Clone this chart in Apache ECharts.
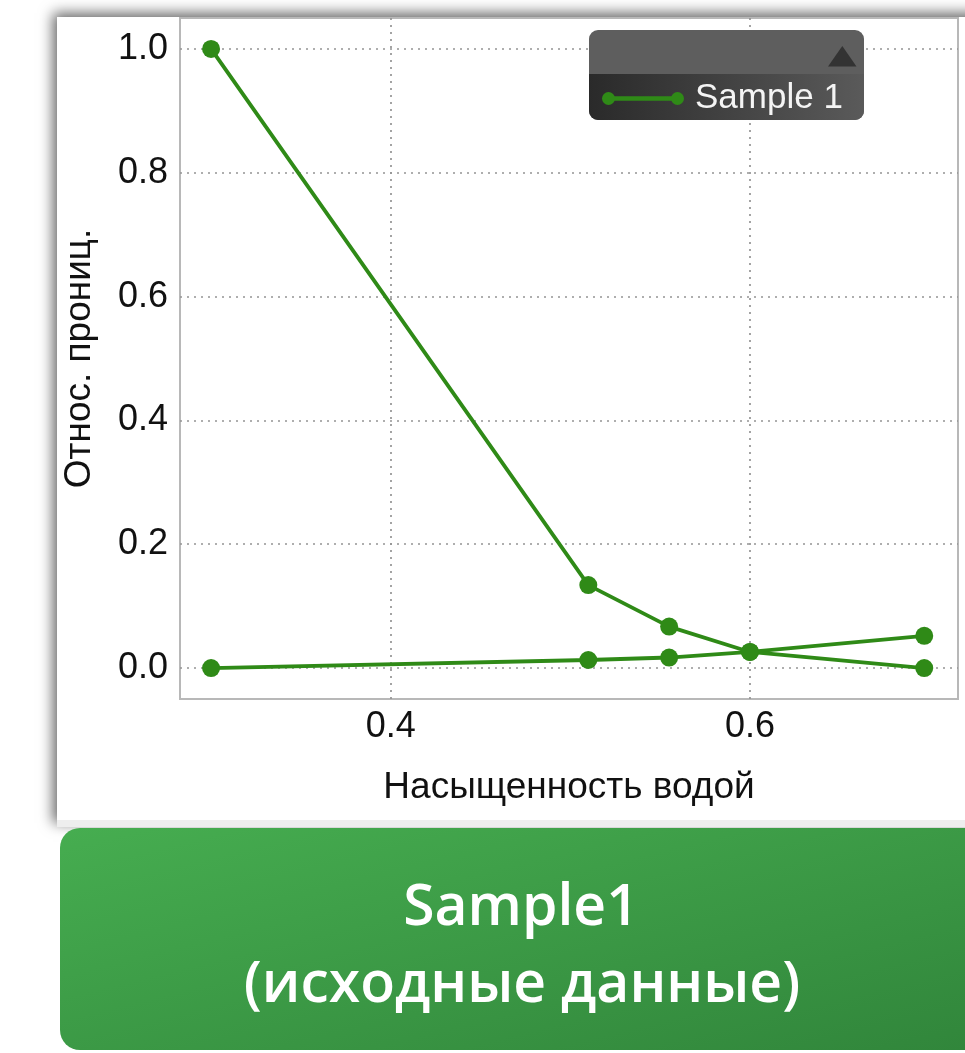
<!DOCTYPE html>
<html>
<head>
<meta charset="utf-8">
<script src="https://cdn.jsdelivr.net/npm/echarts@6/dist/echarts.min.js"></script>
<style>
  html, body { margin: 0; padding: 0; background: #ffffff; }
  #chart { width: 965px; height: 1053px; }
</style>
</head>
<body>
<div id="chart"></div>
<script>
// Relative permeability curves for Sample 1
const seriesName = 'Sample 1';
const waterSaturation = [0.3, 0.51, 0.555, 0.6, 0.697];
const krWater = [0, 0.013, 0.017, 0.026, 0.052];
const krOil = [1.0, 0.134, 0.067, 0.026, 0];
const xTicks = [0.4, 0.6];
const yTicks = [0, 0.2, 0.4, 0.6, 0.8, 1.0];
const xTitle = 'Насыщенность водой';
const yTitle = 'Относ. прониц.';
const bannerLines = ['Sample1', '(исходные данные)'];

const toPairs = (xs, ys) => xs.map((x, i) => [x, ys[i]]);

const lineColor = '#2f8a17';
const axisFont = '"Liberation Sans", Arial, sans-serif';

// legend icon: a short line with a dot at each end
const legendIcon = 'path://M0,6.5 A6.5,6.5 0 1 1 13,6.5 A6.5,6.5 0 1 1 0,6.5 Z ' +
  'M69,6.5 A6.5,6.5 0 1 1 82,6.5 A6.5,6.5 0 1 1 69,6.5 Z ' +
  'M6.5,4.3 L75.5,4.3 L75.5,8.7 L6.5,8.7 Z';

const chart = echarts.init(document.getElementById('chart'), null, { renderer: 'canvas' });

const lineSeries = (data) => ({
  type: 'line',
  name: seriesName,
  data: data,
  symbol: 'circle',
  symbolSize: 18,
  color: lineColor,
  lineStyle: { color: lineColor, width: 3.8 },
  itemStyle: { color: lineColor },
  animation: false,
  z: 2
});

chart.setOption({
  animation: false,
  backgroundColor: '#ffffff',
  grid: {
    show: true,
    left: 180, right: 7, top: 18, bottom: 354,
    borderColor: '#b8b8b8', borderWidth: 2,
    backgroundColor: 'transparent'
  },
  xAxis: {
    type: 'value',
    min: 0.2827, max: 0.7158,
    axisLine: { show: false },
    axisTick: { show: false, customValues: xTicks },
    axisLabel: {
      customValues: xTicks,
      formatter: v => v.toFixed(1),
      fontSize: 36, fontFamily: axisFont, color: '#111', margin: 10
    },
    splitLine: { show: true, lineStyle: { color: '#949494', width: 1.7, type: [2, 5] } },
    name: xTitle,
    nameLocation: 'middle',
    nameGap: 70,
    nameTextStyle: { fontSize: 37, fontFamily: axisFont, color: '#111' }
  },
  yAxis: {
    type: 'value',
    min: -0.05, max: 1.05,
    axisLine: { show: false },
    axisTick: { show: false, customValues: yTicks },
    axisLabel: {
      customValues: yTicks,
      formatter: v => v.toFixed(1),
      fontSize: 36, fontFamily: axisFont, color: '#111', margin: 12
    },
    splitLine: { show: true, lineStyle: { color: '#949494', width: 1.7, type: [2, 5] } },
    name: yTitle,
    nameLocation: 'middle',
    nameGap: 82,
    nameTextStyle: { fontSize: 37, fontFamily: axisFont, color: '#111' }
  },
  legend: {
    show: true,
    left: 602, top: 81,
    padding: 0,
    itemWidth: 82, itemHeight: 13,
    icon: legendIcon,
    itemStyle: { color: lineColor },
    textStyle: { fontSize: 35, fontFamily: axisFont, color: '#f4f4f4', padding: [0, 0, 0, 6] },
    data: [seriesName],
    selectedMode: false,
    z: 5
  },
  graphic: [
    // white card behind the chart
    {
      type: 'rect', z: -10,
      shape: { x: 57, y: 17, width: 930, height: 810 },
      style: {
        fill: '#ffffff',
        shadowBlur: 13, shadowColor: 'rgba(0,0,0,0.6)',
        shadowOffsetX: -4, shadowOffsetY: -4
      }
    },
    {
      type: 'rect', z: -9,
      shape: { x: 57, y: 820, width: 930, height: 7 },
      style: { fill: '#eeeeee' }
    },
    // legend panel
    {
      type: 'rect', z: 3,
      shape: { x: 589, y: 30, width: 275, height: 90, r: 9 },
      style: { fill: '#5e5e5e' }
    },
    {
      type: 'rect', z: 3,
      shape: { x: 589, y: 74, width: 275, height: 46, r: [0, 0, 9, 9] },
      style: {
        fill: new echarts.graphic.LinearGradient(0, 0, 1, 0, [
          { offset: 0, color: '#2a2a2a' },
          { offset: 1, color: '#5a5a5a' }
        ])
      }
    },
    {
      type: 'polygon', z: 3,
      shape: { points: [[828, 66.5], [856.5, 66.5], [842.3, 46]] },
      style: { fill: '#333333' }
    },
    // caption banner
    {
      type: 'rect', z: -10,
      shape: { x: 60, y: 828, width: 940, height: 222, r: 20 },
      style: {
        fill: new echarts.graphic.LinearGradient(60, 828, 163, 1247, [
          { offset: 0, color: '#46ad50' },
          { offset: 1, color: '#31863b' }
        ], true)
      }
    },
    {
      type: 'text', z: -9, x: 521, y: 909,
      style: {
        text: bannerLines[0], fill: '#ffffff',
        font: '600 57px "Open Sans", "Noto Sans", sans-serif',
        align: 'center', verticalAlign: 'middle'
      }
    },
    {
      type: 'text', z: -9, x: 522, y: 986,
      style: {
        text: bannerLines[1], fill: '#ffffff',
        font: '600 57px "Open Sans", "Noto Sans", sans-serif',
        align: 'center', verticalAlign: 'middle'
      }
    }
  ],
  series: [
    lineSeries(toPairs(waterSaturation, krWater)),
    lineSeries(toPairs(waterSaturation, krOil))
  ]
});
</script>
</body>
</html>
